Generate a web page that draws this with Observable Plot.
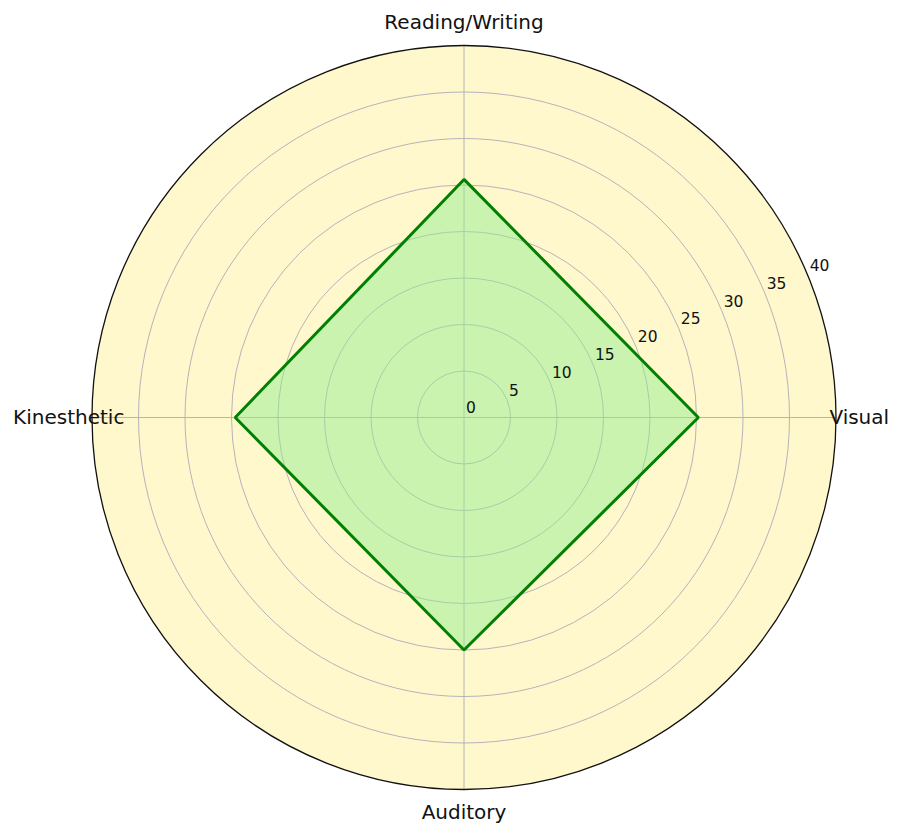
<!DOCTYPE html>
<html>
<head>
<meta charset="utf-8">
<script src="https://cdn.jsdelivr.net/npm/d3@7"></script>
<script src="https://cdn.jsdelivr.net/npm/@observablehq/plot@0.6"></script>
<style>
  html, body { margin: 0; padding: 0; background: #ffffff; }
  #chart svg { display: block; }
</style>
</head>
<body>
<div id="chart"></div>
<script>
// ---- data ----
const categories = ["Visual", "Reading/Writing", "Kinesthetic", "Auditory"];
const values = [25.2, 25.6, 24.6, 25];
const ringTicks = [5, 10, 15, 20, 25, 30, 35];
const tickLabels = [0, 5, 10, 15, 20, 25, 30, 35, 40];
const maxValue = 40;
const labelRadius = 42.5;
const tickAngleDeg = 22.5;

// ---- derived tables ----
const angleOf = (i) => (i * 2 * Math.PI) / categories.length; // counter-clockwise from east
const points = categories.map((c, i) => ({
  category: c,
  value: values[i],
  x: values[i] * Math.cos(angleOf(i)),
  y: values[i] * Math.sin(angleOf(i))
}));
const spokes = categories.map((c, i) => ({
  x2: maxValue * Math.cos(angleOf(i)),
  y2: maxValue * Math.sin(angleOf(i))
}));
const axisLabels = categories.map((c, i) => ({
  label: c,
  x: labelRadius * Math.cos(angleOf(i)),
  y: labelRadius * Math.sin(angleOf(i))
}));
const ta = (tickAngleDeg * Math.PI) / 180;
const tickTable = tickLabels.map((v) => ({
  label: String(v),
  x: v * Math.cos(ta),
  y: v * Math.sin(ta)
}));

const W = 900, H = 836;
const mL = 91.5, mR = 64.5, mT = 45, mB = 47;
const R = (W - mL - mR) / 2;

const chart = Plot.plot({
  width: W,
  height: H,
  marginLeft: mL,
  marginRight: mR,
  marginTop: mT,
  marginBottom: mB,
  style: { background: "#ffffff", fontFamily: "DejaVu Sans, sans-serif" },
  x: { domain: [-maxValue, maxValue], axis: null },
  y: { domain: [-maxValue, maxValue], axis: null },
  r: { type: "linear", domain: [0, maxValue], range: [0, R] },
  marks: [
    // background disc
    Plot.dot([maxValue], { x: () => 0, y: () => 0, r: (d) => d, fill: "#fff8cc", stroke: "none" }),
    // grid rings
    Plot.dot(ringTicks, { x: () => 0, y: () => 0, r: (d) => d, fill: "none", stroke: "#aeaab8", strokeWidth: 0.9 }),
    // spokes
    Plot.link(spokes, { x1: () => 0, y1: () => 0, x2: "x2", y2: "y2", stroke: "#b4b4b4", strokeWidth: 1 }),
    // polygon fill + outline
    Plot.line(points, {
      x: "x", y: "y", curve: "linear-closed",
      fill: "#90ee90", fillOpacity: 0.48,
      stroke: "#008000", strokeWidth: 3, strokeLinejoin: "miter"
    }),
    // outer boundary
    Plot.dot([maxValue], { x: () => 0, y: () => 0, r: (d) => d, fill: "none", stroke: "#111111", strokeWidth: 1.3 }),
    // radial tick labels
    Plot.text(tickTable, { x: "x", y: "y", text: "label", textAnchor: "start", dx: 2, dy: -9, fontSize: 15.5, fill: "#111111" }),
    // category labels
    Plot.text(axisLabels, { x: "x", y: "y", text: "label", textAnchor: "middle", fontSize: 20, fill: "#111111" })
  ]
});
document.getElementById("chart").appendChild(chart);
</script>
</body>
</html>
